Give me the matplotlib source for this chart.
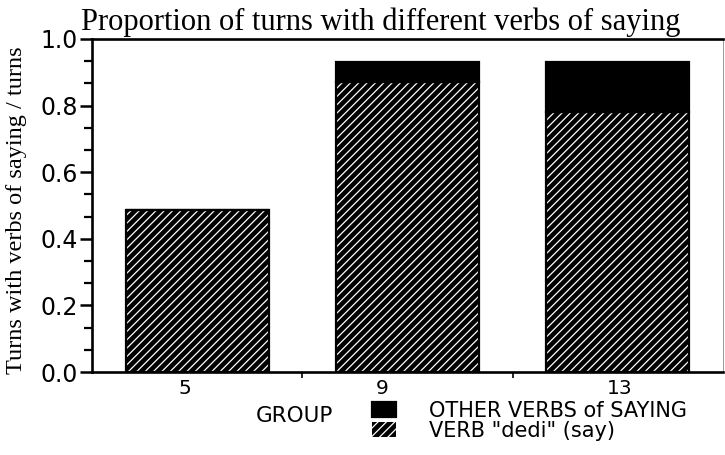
import matplotlib
matplotlib.use("Agg")
import matplotlib.pyplot as plt
from matplotlib.ticker import AutoMinorLocator, FixedLocator

groups = ["5", "9", "13"]
dedi = [0.485, 0.87, 0.78]
other = [0.0, 0.06, 0.15]
series_labels = ['OTHER VERBS of SAYING', 'VERB "dedi" (say)']

title = "Proportion of turns with different verbs of saying"
ylabel = "Turns with verbs of saying / turns"

plt.rcParams["hatch.linewidth"] = 0.9
sans = "DejaVu Sans"
serif = "Liberation Serif"

fig = plt.figure(figsize=(7.25, 4.55), dpi=100)
ax = fig.add_axes([92 / 725, 1 - 372 / 455, 631 / 725, 333 / 455])

x = list(range(len(groups)))
w = 0.68
b_dedi = ax.bar(x, dedi, w, color="black", edgecolor="white", hatch="////", linewidth=0)
ax.bar(x, dedi, w, fill=False, edgecolor="black", linewidth=1.6)
b_other = ax.bar(x, other, w, bottom=dedi, color="black", edgecolor="black", linewidth=1.6)

ax.set_xlim(-0.5, 2.5)
ax.set_ylim(0, 1.0)

# y axis
ax.set_yticks([0, 0.2, 0.4, 0.6, 0.8, 1.0])
ax.set_yticklabels(["0.0", "0.2", "0.4", "0.6", "0.8", "1.0"], family=sans, fontsize=17)
ax.yaxis.set_minor_locator(AutoMinorLocator(3))
ax.tick_params(axis="y", which="major", length=9, width=1.8, direction="out", pad=1)
ax.tick_params(axis="y", which="minor", length=6, width=1.6, direction="out")

# x axis: small ticks between bars, labels nudged like the original
ax.xaxis.set_minor_locator(FixedLocator([0.5, 1.5]))
ax.tick_params(axis="x", which="minor", length=4, width=1.2, direction="out")
nudge = [-0.06, -0.12, 0.01]
ax.set_xticks([xi + n for xi, n in zip(x, nudge)])
ax.set_xticklabels(groups, family=sans, fontsize=14.5)
ax.tick_params(axis="x", which="major", length=0, pad=5)

for s in ["left", "bottom", "top"]:
    ax.spines[s].set_linewidth(1.9)
ax.spines["right"].set_linewidth(0.6)
ax.spines["right"].set_color("#888888")

fig.text(381 / 725, 1 - 30 / 455, title, family=serif, fontsize=22, ha="center", va="baseline")
fig.text(17 / 725, 1 - 210 / 455, ylabel, family=serif, fontsize=17.5, rotation=90,
         ha="center", va="center")
fig.text(294 / 725, 1 - 416 / 455, "GROUP", family=sans, fontsize=15.5, ha="center", va="center")

fig.legend([b_other, b_dedi], series_labels, loc="upper left",
           bbox_to_anchor=(372 / 725, 1 - 401 / 455), frameon=False,
           prop={"family": sans, "size": 15}, handlelength=1.15, handleheight=0.7,
           handletextpad=1.6, labelspacing=0.0, borderpad=0, borderaxespad=0)

plt.savefig("out.png", dpi=100)
